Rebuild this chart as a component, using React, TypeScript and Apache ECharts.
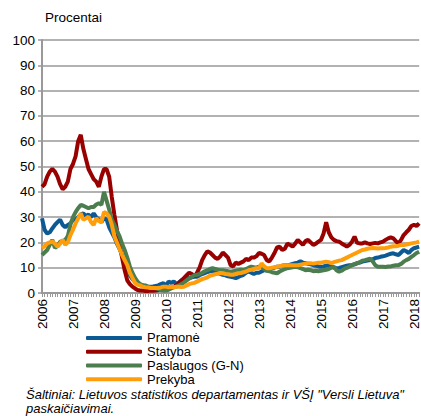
import React, { useEffect, useRef } from "react";
import * as echarts from "echarts";

const years = ["2006", "2007", "2008", "2009", "2010", "2011", "2012", "2013", "2014", "2015", "2016", "2017", "2018"];
const monthsIn2018 = 3;
const seriesNames = ["Pramonė", "Statyba", "Paslaugos (G-N)", "Prekyba"];
const yTicks = { min: 0, max: 100, interval: 10 };
const yTitle = "Procentai";
const sourceLines = ["Šaltiniai: Lietuvos statistikos departamentas ir VŠĮ \"Versli Lietuva\"", "paskaičiavimai."];

const pramone = [
  29.5, 25, 23.5, 24, 25.5, 26.9, 28, 29, 26.9, 26, 26.9, 27.5,
  28.9, 29, 30, 31, 31.5, 30.5, 31, 30, 31.5, 30, 29, 28,
  29.5, 29, 26, 24, 22, 19.5, 17.5, 15, 12, 9.5, 7, 5.5,
  4.5, 3.8, 3.2, 3, 2.8, 2.5, 2.5, 2.6, 2.8, 3, 3.5, 3.9,
  3, 4.5, 4, 4.6, 3.5, 4.2, 5, 5.5, 6, 5.8, 6.2, 6.4,
  6.4, 7, 7.5, 7.9, 8.3, 8.6, 8.6, 8.2, 7.9, 7.6, 7.2, 7,
  6.6, 6.4, 6.2, 5.9, 6.3, 6.8, 7.2, 8, 8.5, 8, 7.5, 8,
  8, 8.5, 9, 9, 9.5, 9.8, 10, 10.4, 10.4, 10.8, 11, 11,
  11.2, 11.5, 11.8, 12, 12.5, 12, 11.8, 11.5, 11.3, 11, 10.8, 10.5,
  10.4, 10.5, 10.8, 11, 10.5, 10, 9.8, 9.9, 10.2, 10.5, 10.8, 11,
  11, 11.3, 11.8, 12, 12.4, 12.6, 12.8, 13, 13.3, 13.8, 14, 14.3,
  14.5, 14.8, 15.2, 15.5, 15.7, 15.3, 15, 16, 17, 16.5, 15.8, 17,
  17.7, 18, 18.3,
];

const statyba = [
  42, 43, 46, 48, 49, 48, 46, 43, 41, 42, 44, 49,
  51, 54, 60, 62.5, 57, 53, 49, 47, 45, 44, 42, 46,
  49, 49, 46, 38, 31, 25, 19, 14, 9, 5, 3.5, 2.5,
  1.8, 1.2, 1, 1, 0.8, 0.8, 1, 0.9, 1, 1.2, 1.5, 1.8,
  2, 2.2, 2.5, 2.5, 3, 4, 5, 6, 7, 8, 7.5, 6.5,
  8, 10, 13, 15, 16.5, 16, 15, 14, 13.5, 14.5, 16, 15,
  14, 11, 10.5, 12, 11.5, 12, 12.5, 13.5, 13, 14, 14, 14.5,
  15.8, 15.5, 15, 13, 12.5, 14, 15.8, 18, 18.3, 17, 17.5, 19.5,
  19, 18.3, 19.5, 21, 20, 19, 20.5, 21, 20, 19, 19.5, 20.3,
  21, 23.5, 28, 24, 22, 21, 20.5, 20.3, 19.6, 19, 18.3, 19,
  20.3, 22.3, 19.8, 19.6, 19.6, 20, 19.6, 19.4, 19.6, 19.8, 19.6, 20,
  20.3, 21, 21.6, 22, 21.6, 20.5, 19.6, 21, 22.9, 24, 25, 26.5,
  27, 26.5, 27.5,
];

const paslaugos = [
  15, 16, 17, 19, 21, 17.8, 18.5, 20.3, 20.5, 21, 22.5, 27,
  30, 32, 33.5, 34.8, 34.5, 34, 33.5, 34, 34, 35, 35.5, 34.8,
  40, 36.5, 33, 29, 27, 24.5, 22.5, 19.5, 17, 14, 10.5, 8,
  6, 4.5, 3.5, 3, 3, 2.5, 2.2, 2, 1.9, 1.5, 1.2, 1,
  1, 1.3, 1.8, 2.2, 2.5, 3, 3.5, 4.2, 5, 5.8, 6.4, 7,
  7.2, 7.5, 8, 8.6, 9, 9.5, 9.8, 9.5, 9.2, 9, 9, 8.8,
  8.6, 8.4, 8.6, 8.8, 9, 9.2, 9, 9.5, 10, 10.4, 10.2, 10,
  10.4, 10, 9.5, 8.8, 8.6, 8.2, 8, 7.8, 8.5, 9, 9.5, 9.8,
  10, 10.2, 10.4, 10.2, 9.8, 9.5, 9, 9.2, 9, 8.6, 8.8, 8.6,
  8.8, 9, 9.2, 9.5, 10, 10.4, 9, 8.4, 8.8, 9.5, 9.9, 10.5,
  11, 11.5, 11.7, 12.2, 12.8, 13, 13.3, 13.6, 12.5, 11, 10.4, 10.4,
  10.4, 10.3, 10.5, 10.5, 10.8, 11, 11, 11.5, 12.4, 13, 13.5, 14.3,
  15, 15.8, 16.3,
];

const prekyba = [
  17.7, 18.5, 19.6, 20, 20.3, 19.5, 18.3, 19.5, 21, 19, 20, 22.9,
  25, 27.5, 29.5, 31.5, 28.9, 29.5, 30.2, 28, 26.9, 29.6, 28.5, 28,
  32, 31.5, 30.2, 27, 22.5, 20, 17.5, 15, 13, 11, 8, 6,
  4, 3.2, 3, 2.5, 2.3, 2.2, 2, 2, 2, 2, 2.2, 2.5,
  2.5, 2.2, 2.5, 2.3, 2.5, 2.5, 2.4, 2.5, 3, 3.5, 3.8, 4,
  4.5, 5, 5.5, 5.8, 6.2, 6.8, 7.1, 7.4, 7.6, 7.9, 7.8, 7.5,
  7.4, 7.2, 7.2, 7.5, 7.8, 7.9, 8.2, 8.5, 9, 9.2, 9.5, 9.8,
  9.8, 11.7, 10.5, 9.8, 9.8, 10, 10.2, 10.4, 10.6, 10.8, 11, 11,
  11, 11, 11, 11, 11.2, 11.4, 11.6, 11.8, 11.8, 11.6, 11.8, 12,
  12, 12.2, 12.4, 12.2, 11.8, 12.2, 12.5, 12.8, 13, 13.5, 14, 14.5,
  15, 15.5, 16, 16.5, 17, 17.2, 17.5, 17.7, 17.8, 17.7, 17.6, 17.7,
  17.7, 17.8, 18, 18.3, 18.5, 18.5, 18.7, 19, 19, 19.2, 19.4, 19.6,
  19.8, 20, 20.3,
];

const colors = ["#0C5A94", "#990000", "#4C7D4E", "#FF9E0A"];

const months: string[] = [];
years.forEach((y, i) => {
  const n = i === years.length - 1 ? monthsIn2018 : 12;
  for (let m = 1; m <= n; m++) months.push(`${y}-${m < 10 ? "0" + m : m}`);
});

const FONT = "'Liberation Sans', Arial, sans-serif";

export default function App() {
  const ref = useRef<HTMLDivElement>(null);
  useEffect(() => {
    if (!ref.current) return;
    const chart = echarts.init(ref.current, undefined, { renderer: "svg" });
    const data = [pramone, statyba, paslaugos, prekyba];
    chart.setOption({
      animation: false,
      textStyle: { fontFamily: FONT },
      grid: { left: 42, right: 0, top: 40, bottom: 123, containLabel: false },
      xAxis: {
        type: "category",
        data: months,
        boundaryGap: false,
        axisLine: { show: true, lineStyle: { color: "#999999", width: 2 } },
        axisTick: { show: true, interval: 0, length: 4, lineStyle: { color: "#999999", width: 1 } },
        axisLabel: {
          interval: (idx: number) => idx % 12 === 0,
          rotate: 90,
          margin: 6,
          fontSize: 13.5,
          color: "#000",
          fontFamily: FONT,
          formatter: (v: string) => v.slice(0, 4),
        },
        splitLine: { show: false },
      },
      yAxis: {
        type: "value",
        min: yTicks.min,
        max: yTicks.max,
        interval: yTicks.interval,
        axisLine: { show: true, lineStyle: { color: "#999999", width: 2 } },
        axisTick: { show: true, length: 4, lineStyle: { color: "#999999", width: 1.5 } },
        axisLabel: { margin: 7, fontSize: 13.5, color: "#000", fontFamily: FONT },
        splitLine: { show: true, lineStyle: { color: "#999999", width: 1.5 } },
      },
      legend: {
        orient: "vertical",
        left: 86,
        top: 331,
        itemWidth: 56,
        itemHeight: 4,
        itemGap: 0,
        icon: "roundRect",
        padding: 0,
        textStyle: { fontSize: 13, color: "#000", fontFamily: FONT, lineHeight: 13.8, padding: [0, 0, 0, 0] },
        data: seriesNames,
      },
      series: seriesNames.map((name, i) => ({
        name,
        type: "line",
        data: data[i],
        showSymbol: false,
        symbol: "none",
        lineStyle: { color: colors[i], width: 4 },
        itemStyle: { color: colors[i] },
        z: 2 + i,
      })),
      graphic: [
        {
          type: "text",
          left: 45,
          top: 10,
          style: { text: yTitle, fontSize: 13.5, fill: "#000", font: `13.5px ${FONT}` },
        },
        {
          type: "text",
          left: 26,
          top: 387,
          style: {
            text: sourceLines.join("\n"),
            fill: "#000",
            font: `italic 13px ${FONT}`,
            lineHeight: 14.5,
          },
        },
      ],
    });
    return () => chart.dispose();
  }, []);
  return <div ref={ref} style={{ position: "absolute", left: 0, top: 0, width: 421, height: 416 }} />;
}
